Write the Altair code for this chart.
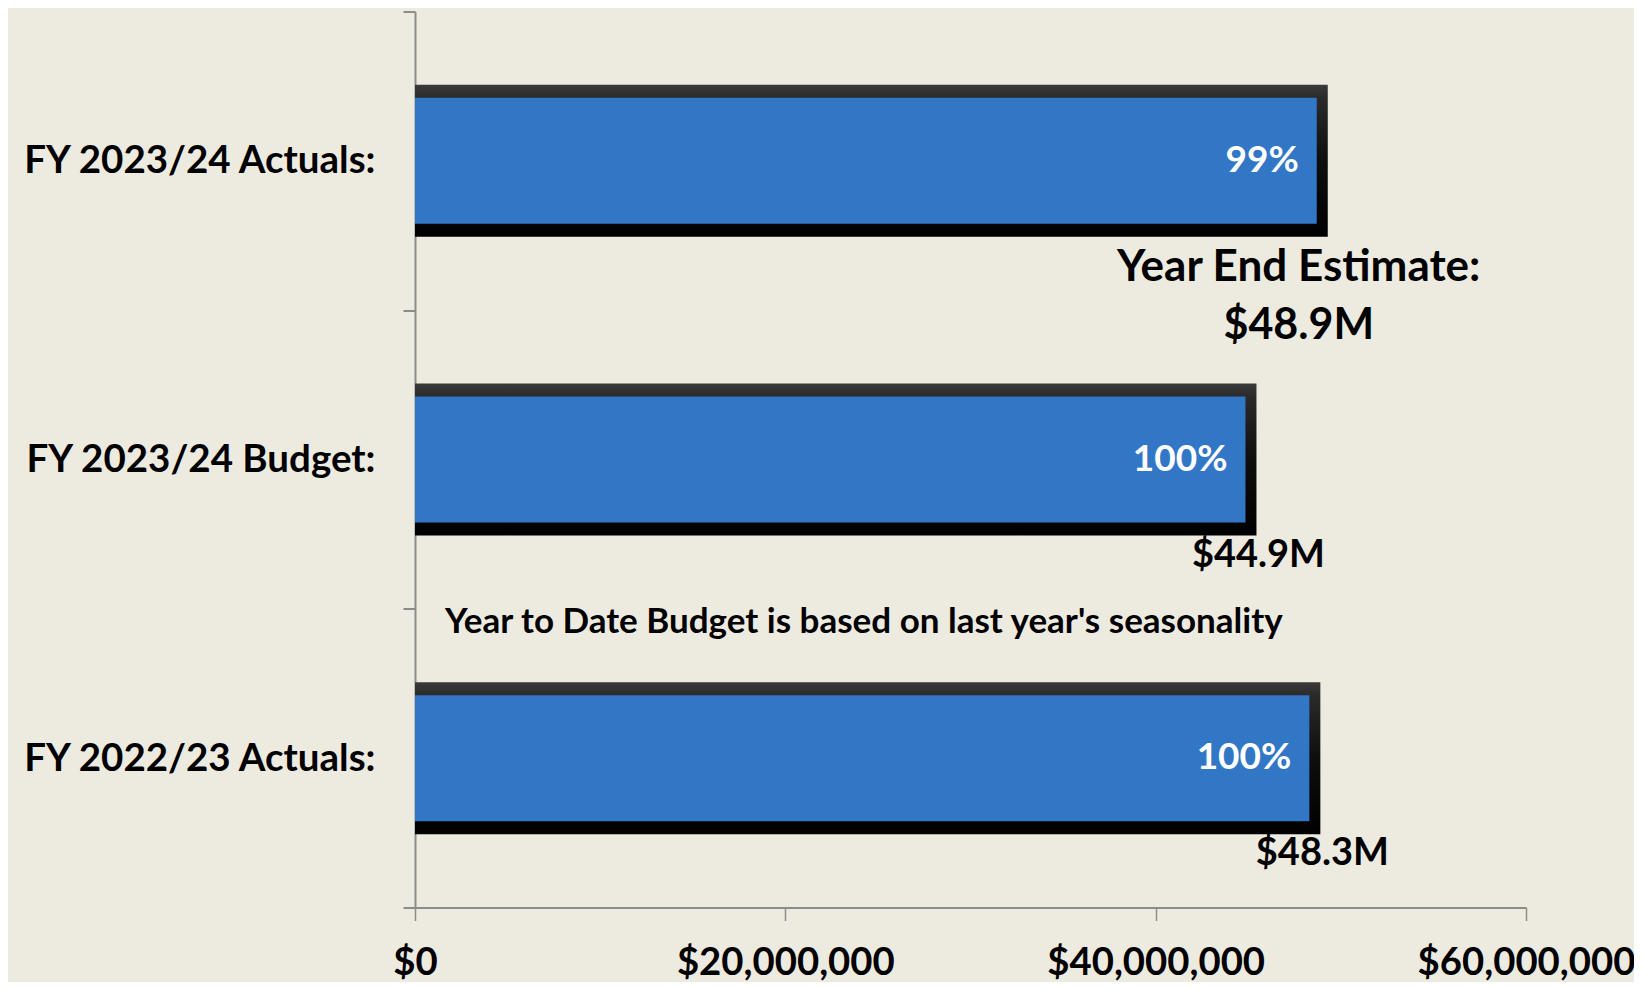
import altair as alt
import pandas as pd

categories = ["FY 2023/24 Actuals:", "FY 2023/24 Budget:", "FY 2022/23 Actuals:"]
values = [48.7e6, 44.85e6, 48.3e6]
pct_labels = ["99%", "100%", "100%"]
total_labels = ["", "$44.9M", "$48.3M"]
ye_title = "Year End Estimate:"
ye_value = "$48.9M"
note = "Year to Date Budget is based on last year's seasonality"
x_ticks = [0, 20e6, 40e6, 60e6]

df = pd.DataFrame({"cat": categories, "value": values, "pct": pct_labels, "total": total_labels})
ye_df = pd.DataFrame({"cat": [categories[0]], "value": [values[0]], "t1": [ye_title], "t2": [ye_value]})
note_df = pd.DataFrame({"cat": [categories[1]], "value": [0], "note": [note]})

FONT = "Lato"
W, H = 1111, 896
BLUE = "#3276C6"
AX = "#8c8c8c"

y_enc = alt.Y(
    "cat:N", sort=categories,
    scale=alt.Scale(domain=categories, paddingInner=0, paddingOuter=0),
    axis=alt.Axis(title=None, tickBand="extent", domainColor=AX, domainWidth=2,
                  tickColor=AX, tickWidth=2, tickSize=12, labelFont=FONT,
                  labelFontSize=38.5, labelFontWeight="bold", labelColor="black",
                  labelPadding=28, labelLimit=0),
)
x_enc = alt.X(
    "value:Q",
    scale=alt.Scale(domain=[0, 60e6], nice=False),
    axis=alt.Axis(values=x_ticks, format="$,.0f", title=None, grid=False,
                  domainColor=AX, domainWidth=2, tickColor=AX, tickWidth=1.5,
                  tickSize=13, labelFont=FONT, labelFontSize=38.3,
                  labelFontWeight="bold", labelColor="black", labelPadding=24,
                  labelFlush=False, labelLimit=0, labelOverlap=False),
)

frame_grad = alt.Gradient(
    gradient="linear",
    stops=[alt.GradientStop(color="#3a3a3a", offset=0),
           alt.GradientStop(color="#2a2a2a", offset=0.09),
           alt.GradientStop(color="#0e0e0e", offset=0.5),
           alt.GradientStop(color="#000000", offset=1)],
    x1=0, x2=0, y1=0, y2=1,
)

base = alt.Chart(df)

frame = base.mark_bar(size=152, color=frame_grad, xOffset=11).encode(
    x=x_enc, x2=alt.datum(0), y=y_enc
)
bars = base.mark_bar(size=126, color=BLUE).encode(
    x=alt.X("value:Q"), x2=alt.datum(0), y=alt.Y("cat:N", sort=categories)
)
pct = base.mark_text(align="right", baseline="middle", dx=-18, color="white",
                     fontSize=37, fontWeight="bold", font=FONT).encode(
    x="value:Q", y=alt.Y("cat:N", sort=categories), text="pct:N"
)
totals = base.mark_text(align="center", baseline="middle", dx=13, dy=96, color="black",
                        fontSize=38, fontWeight="bold", font=FONT).encode(
    x="value:Q", y=alt.Y("cat:N", sort=categories), text="total:N"
)
ye1 = alt.Chart(ye_df).mark_text(align="center", baseline="middle", dx=-18, dy=107,
                                 color="black", fontSize=44, fontWeight="bold", font=FONT).encode(
    x="value:Q", y=alt.Y("cat:N", sort=categories), text="t1:N"
)
ye2 = alt.Chart(ye_df).mark_text(align="center", baseline="middle", dx=-18, dy=165,
                                 color="black", fontSize=43, fontWeight="bold", font=FONT).encode(
    x="value:Q", y=alt.Y("cat:N", sort=categories), text="t2:N"
)
note_t = alt.Chart(note_df).mark_text(align="left", baseline="middle", dx=30, dy=162,
                                      color="black", fontSize=35, fontWeight="bold", font=FONT).encode(
    x="value:Q", y=alt.Y("cat:N", sort=categories), text="note:N"
)

chart = alt.layer(frame, bars, pct, totals, ye1, ye2, note_t).properties(
    width=W, height=H,
    autosize=alt.AutoSizeParams(type="none"),
    padding={"left": 407, "top": 3.5, "right": 108, "bottom": 74},
    background="#EDEBE0",
).configure_view(stroke=None)

chart.save("out.html", embed_options={"renderer": "svg", "actions": False})
